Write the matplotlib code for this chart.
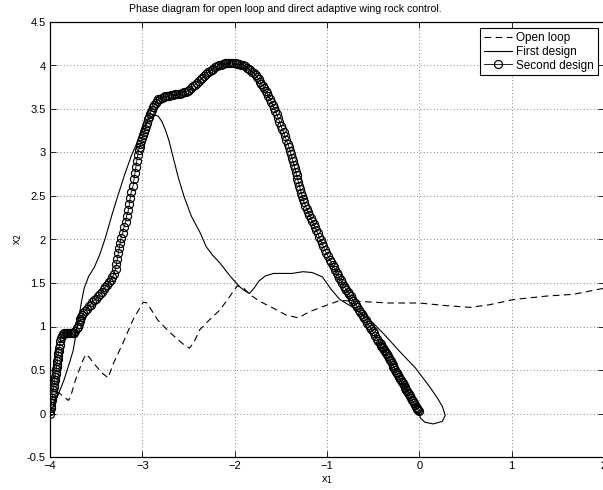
import numpy as np
import matplotlib.pyplot as plt
from matplotlib.ticker import FormatStrFormatter

plt.rcParams['font.family'] = ['Liberation Sans', 'DejaVu Sans']
plt.rcParams['font.size'] = 8

# open loop trajectory (dashed)
open_x = [-4.00, -3.96, -3.92, -3.86, -3.80, -3.77, -3.72, -3.64, -3.61, -3.57, -3.53,
          -3.43, -3.37, -3.32, -3.21, -3.10, -2.99, -2.95, -2.92, -2.83, -2.70, -2.56,
          -2.49, -2.44, -2.38, -2.27, -2.16, -2.05, -1.97, -1.90, -1.84, -1.73, -1.58,
          -1.44, -1.31, -1.19, -1.04, -0.86, -0.68, -0.50, -0.32, 0.00, 0.29, 0.55,
          0.76, 1.02, 1.38, 1.67, 2.00]
open_y = [0.00, 0.12, 0.25, 0.20, 0.15, 0.22, 0.40, 0.62, 0.68, 0.64, 0.58,
          0.46, 0.41, 0.56, 0.81, 1.08, 1.28, 1.27, 1.22, 1.07, 0.93, 0.80,
          0.75, 0.82, 0.96, 1.08, 1.19, 1.35, 1.47, 1.44, 1.37, 1.29, 1.21,
          1.13, 1.10, 1.17, 1.23, 1.30, 1.29, 1.28, 1.27, 1.27, 1.24, 1.22,
          1.25, 1.31, 1.35, 1.37, 1.44]

# first design (thin solid)
first_x = [-4.00, -3.96, -3.91, -3.85, -3.79, -3.75, -3.72, -3.69, -3.66, -3.63, -3.58,
           -3.52, -3.46, -3.40, -3.33, -3.26, -3.19, -3.12, -3.05, -2.98, -2.93, -2.88,
           -2.83, -2.79, -2.75, -2.71, -2.67, -2.61, -2.55, -2.47, -2.37, -2.31, -2.24,
           -2.16, -2.05, -1.95, -1.89, -1.84, -1.79, -1.74, -1.67, -1.58, -1.48, -1.38,
           -1.26, -1.16, -1.05, -0.95, -0.86, -0.72, -0.54, -0.39, -0.21, -0.04, 0.11,
           0.20, 0.25, 0.28, 0.25, 0.15, 0.06, 0.01, 0.00]
first_y = [0.00, 0.10, 0.22, 0.38, 0.58, 0.72, 0.90, 1.08, 1.28, 1.44, 1.58,
           1.68, 1.83, 2.02, 2.28, 2.52, 2.75, 2.96, 3.13, 3.30, 3.39, 3.43,
           3.42, 3.36, 3.26, 3.13, 2.96, 2.71, 2.50, 2.27, 2.07, 1.92, 1.82,
           1.73, 1.58, 1.46, 1.41, 1.38, 1.44, 1.52, 1.58, 1.61, 1.61, 1.61,
           1.63, 1.62, 1.57, 1.42, 1.31, 1.22, 1.08, 0.92, 0.71, 0.52, 0.31,
           0.17, 0.08, -0.02, -0.09, -0.12, -0.10, -0.05, 0.01]

# second design (circles)
rise_x = [-4.00, -3.996, -3.992, -3.988, -3.984, -3.98, -3.976, -3.972, -3.968, -3.964,
          -3.96, -3.956, -3.952, -3.948, -3.944, -3.94, -3.936, -3.932, -3.928, -3.924,
          -3.92, -3.916, -3.912, -3.908, -3.904, -3.90, -3.895, -3.89, -3.885]
rise_y = [0.00, 0.03, 0.06, 0.09, 0.12, 0.15, 0.18, 0.21, 0.24, 0.27,
          0.30, 0.33, 0.36, 0.39, 0.42, 0.45, 0.48, 0.51, 0.54, 0.57,
          0.60, 0.63, 0.66, 0.69, 0.72, 0.75, 0.79, 0.83, 0.87]

bump_x = [-3.875, -3.86, -3.845, -3.83, -3.815, -3.80, -3.785, -3.77, -3.755, -3.74,
          -3.725, -3.71, -3.70, -3.69, -3.68, -3.67, -3.66, -3.65, -3.64,
          -3.62, -3.60, -3.58, -3.56, -3.54, -3.52, -3.50, -3.48, -3.46, -3.44,
          -3.42, -3.40, -3.38, -3.36, -3.34, -3.325, -3.31]
bump_y = [0.89, 0.91, 0.92, 0.93, 0.93, 0.93, 0.93, 0.92, 0.92, 0.93,
          0.95, 0.98, 1.00, 1.03, 1.06, 1.09, 1.11, 1.13, 1.15,
          1.18, 1.20, 1.23, 1.25, 1.28, 1.30, 1.32, 1.35, 1.37, 1.40,
          1.43, 1.45, 1.48, 1.51, 1.54, 1.57, 1.60]

climb_x = [-3.29, -3.28, -3.27, -3.26, -3.25, -3.24, -3.23, -3.21, -3.20, -3.18, -3.17,
           -3.15, -3.14, -3.13, -3.12, -3.10, -3.09, -3.08, -3.07, -3.06, -3.05, -3.04]
climb_y = [1.66, 1.72, 1.78, 1.84, 1.90, 1.96, 2.02, 2.08, 2.14, 2.20, 2.27,
           2.34, 2.41, 2.48, 2.55, 2.62, 2.69, 2.76, 2.83, 2.90, 2.97, 3.03]

top_x = [-3.03, -3.02, -3.01, -3.00, -2.99, -2.98, -2.97, -2.96, -2.95, -2.94,
         -2.93, -2.92, -2.91, -2.90, -2.885, -2.87, -2.855, -2.84, -2.825, -2.81,
         -2.79, -2.77, -2.75, -2.73, -2.71, -2.69, -2.67, -2.65, -2.63, -2.61,
         -2.59, -2.57, -2.55, -2.53, -2.51, -2.49, -2.47, -2.45, -2.43, -2.41,
         -2.39, -2.37, -2.35, -2.33, -2.31, -2.29, -2.27, -2.25, -2.23, -2.21,
         -2.19, -2.17, -2.15, -2.13, -2.11, -2.09, -2.07, -2.05, -2.03, -2.01,
         -1.99, -1.97, -1.95, -1.93, -1.91, -1.89, -1.87, -1.85, -1.83, -1.81,
         -1.79, -1.77, -1.755, -1.74, -1.725, -1.71, -1.695, -1.68, -1.665, -1.65,
         -1.635, -1.62]
top_y = [3.06, 3.10, 3.13, 3.17, 3.20, 3.24, 3.27, 3.31, 3.34, 3.38,
         3.41, 3.44, 3.47, 3.49, 3.52, 3.55, 3.57, 3.59, 3.61, 3.62,
         3.63, 3.64, 3.645, 3.65, 3.655, 3.66, 3.665, 3.67, 3.67, 3.67,
         3.675, 3.68, 3.69, 3.70, 3.71, 3.72, 3.74, 3.76, 3.78, 3.80,
         3.82, 3.84, 3.86, 3.88, 3.90, 3.92, 3.935, 3.95, 3.965, 3.98,
         3.99, 4.00, 4.01, 4.02, 4.025, 4.03, 4.03, 4.03, 4.03, 4.03,
         4.025, 4.02, 4.015, 4.01, 4.00, 3.99, 3.975, 3.96, 3.945, 3.93,
         3.91, 3.89, 3.865, 3.84, 3.815, 3.79, 3.765, 3.74, 3.71, 3.68,
         3.65, 3.62]

fall_x = [-1.605, -1.59, -1.575, -1.56, -1.545, -1.53, -1.515, -1.50, -1.485, -1.47,
          -1.455, -1.44, -1.425, -1.41,
          -1.40, -1.39, -1.38, -1.37, -1.36, -1.35, -1.34, -1.33, -1.32, -1.31,
          -1.30, -1.29, -1.28, -1.27, -1.26, -1.25,
          -1.235, -1.22, -1.205, -1.19, -1.175, -1.16, -1.145, -1.13, -1.115, -1.10,
          -1.085, -1.07, -1.055, -1.04, -1.025,
          -1.01, -0.99, -0.97,
          -0.955, -0.94, -0.925, -0.91, -0.895, -0.88, -0.865, -0.85, -0.835, -0.82,
          -0.805, -0.79, -0.775, -0.76, -0.745, -0.73, -0.715, -0.70, -0.685, -0.67,
          -0.655, -0.64, -0.625, -0.61, -0.595, -0.58, -0.565, -0.55, -0.535, -0.52,
          -0.505, -0.49, -0.475, -0.46, -0.445, -0.43]
fall_y = [3.585, 3.55, 3.515, 3.48, 3.44, 3.40, 3.355, 3.31, 3.27, 3.23,
          3.185, 3.14, 3.10, 3.06,
          3.02, 2.98, 2.94, 2.90, 2.86, 2.82, 2.78, 2.74, 2.70, 2.66,
          2.62, 2.58, 2.54, 2.50, 2.465, 2.43,
          2.39, 2.35, 2.315, 2.28, 2.245, 2.21, 2.175, 2.14, 2.105, 2.07,
          2.03, 1.99, 1.955, 1.92, 1.885,
          1.85, 1.81, 1.77,
          1.74, 1.71, 1.68, 1.65, 1.62, 1.59, 1.56, 1.53, 1.50, 1.47,
          1.445, 1.42, 1.395, 1.37, 1.345, 1.32, 1.295, 1.27, 1.245, 1.22,
          1.195, 1.17, 1.145, 1.12, 1.095, 1.07, 1.045, 1.02, 0.995, 0.97,
          0.945, 0.92, 0.89, 0.86, 0.835, 0.81]

end_x = [-0.42, -0.41, -0.40, -0.39, -0.38, -0.37, -0.36, -0.35, -0.34, -0.33,
         -0.32, -0.31, -0.30, -0.29, -0.28, -0.27, -0.26, -0.25, -0.24, -0.23,
         -0.22, -0.21, -0.20, -0.19, -0.18, -0.17, -0.16, -0.15, -0.14, -0.13,
         -0.12, -0.11, -0.10, -0.09, -0.08, -0.07, -0.06, -0.05, -0.04, -0.03,
         -0.02, -0.01, 0.00]
end_y = [0.795, 0.78, 0.765, 0.75, 0.735, 0.72, 0.70, 0.68, 0.66, 0.64,
         0.62, 0.60, 0.58, 0.56, 0.54, 0.52, 0.50, 0.48, 0.46, 0.44,
         0.42, 0.40, 0.38, 0.36, 0.345, 0.33, 0.31, 0.29, 0.275, 0.26,
         0.24, 0.22, 0.20, 0.18, 0.16, 0.14, 0.12, 0.10, 0.08, 0.06,
         0.05, 0.04, 0.03]

second_x = rise_x + bump_x + climb_x + top_x + fall_x + end_x
second_y = rise_y + bump_y + climb_y + top_y + fall_y + end_y

x_ticks = [-4, -3, -2, -1, 0, 1, 2]
y_ticks = [-0.5, 0, 0.5, 1, 1.5, 2, 2.5, 3, 3.5, 4, 4.5]

fig = plt.figure(figsize=(6.03, 4.9), dpi=100)
ax = fig.add_axes([50 / 603, 33 / 490, 554 / 603, 435 / 490])

ax.plot(open_x, open_y, color='black', linewidth=0.8, linestyle=(0, (6, 4)),
        label='Open loop')
ax.plot(first_x, first_y, color='black', linewidth=0.8, label='First design')
ax.plot(second_x, second_y, color='black', linewidth=0.6, marker='o',
        markersize=5.8, markerfacecolor='none', markeredgewidth=0.85,
        label='Second design')

ax.set_xlim(-4, 2)
ax.set_ylim(-0.5, 4.5)
ax.set_xticks(x_ticks)
ax.set_yticks(y_ticks)
ax.yaxis.set_major_formatter(FormatStrFormatter('%g'))
ax.tick_params(direction='in', length=4, width=0.6, top=True, right=True,
               labelsize=8, pad=3)
for s in ax.spines.values():
    s.set_linewidth(0.9)

ax.grid(True, color='0.35', linestyle=(0, (1, 3)), linewidth=0.6)

ax.set_title('Phase diagram for open loop and direct adaptive wing rock control.',
             fontsize=7.6, x=0.424, pad=7)
ax.set_xlabel(r'x$_1$', fontsize=8, labelpad=2)
ax.set_ylabel(r'x$_2$', fontsize=8, labelpad=2)

leg = ax.legend(loc='upper right', fontsize=8.5, fancybox=False, framealpha=1,
                edgecolor='black', handlelength=2.4, borderpad=0.3,
                labelspacing=0.15, handletextpad=0.35, borderaxespad=0.55)
leg.get_frame().set_linewidth(0.8)

fig.savefig('out.png', dpi=100)
